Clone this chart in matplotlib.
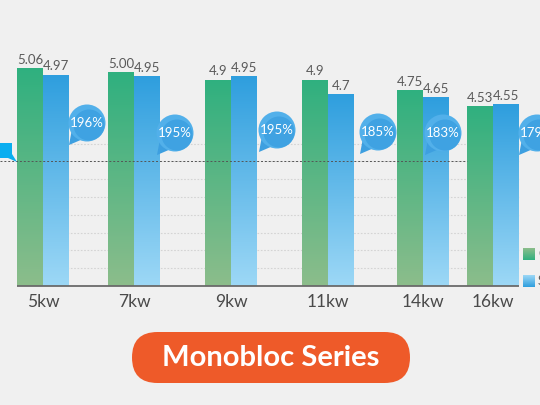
import numpy as np
import matplotlib.pyplot as plt
from matplotlib.patches import Circle, Polygon, FancyBboxPatch
from matplotlib.colors import LinearSegmentedColormap

# data
models = ['5kw', '7kw', '9kw', '11kw', '14kw', '16kw']
cop = [5.06, 5.00, 4.9, 4.9, 4.75, 4.53]
scop = [4.97, 4.95, 4.95, 4.7, 4.65, 4.55]
cop_labels = ['5.06', '5.00', '4.9', '4.9', '4.75', '4.53']
scop_labels = ['4.97', '4.95', '4.95', '4.7', '4.65', '4.55']
eff = ['196%', '195%', '195%', '185%', '183%', '179%']

# layout (pixel-like x units, bubbles in figure pixels)
x_pos = np.array([43, 134, 231, 328, 423, 493])
bar_w = 26
bubble_xy = [(87, 123), (175, 133), (277, 130), (378, 132), (443, 133), (537, 133)]

bg = '#f0f0f0'
green_cm = LinearSegmentedColormap.from_list('g', ['#8cbd8b', '#2fb07f'])
blue_cm = LinearSegmentedColormap.from_list('b', ['#9dd8f6', '#2e9ede'])
grad = np.linspace(0, 1, 256).reshape(-1, 1)

fig = plt.figure(figsize=(5.4, 4.05), dpi=100, facecolor=bg)
ax = fig.add_axes([0, 119 / 405, 1, 286 / 405])
ax.set_facecolor(bg)
y0 = 2.0
for s in ax.spines.values():
    s.set_visible(False)
ax.set_yticks([])

# light dotted grid + dark dashed reference line
for g in np.arange(2.25, 4.01, 0.25):
    ax.hlines(g, 17, 519, color='#d4d4d4', lw=0.8, ls=(0, (1.5, 1.5)), zorder=0)
ax.hlines(3.75, 0, 467, color='#555555', lw=0.7, ls=(0, (2, 2)), zorder=5)


def grad_bars(xs, vals, cm):
    bars = ax.bar(xs, np.array(vals) - y0, bottom=y0, width=bar_w,
                  color='none', lw=0, zorder=2)
    for b in bars:
        x0, yb = b.get_x(), b.get_y()
        im = ax.imshow(grad, cmap=cm, origin='lower', aspect='auto',
                       extent=[x0, x0 + b.get_width(), yb, yb + b.get_height()],
                       zorder=2)
        im.set_clip_path(b)
    return bars


grad_bars(x_pos - bar_w / 2, cop, green_cm)
grad_bars(x_pos + bar_w / 2, scop, blue_cm)
ax.set_xlim(0, 540)
ax.set_ylim(y0, y0 + 286 / 71.2)

for xs, vals, labs in [(x_pos - bar_w / 2, cop, cop_labels),
                       (x_pos + bar_w / 2, scop, scop_labels)]:
    for x, v, t in zip(xs, vals, labs):
        ax.annotate(t, (x, v), xytext=(0, 1.5), textcoords='offset points',
                    ha='center', va='bottom', fontsize=9.5, color='#5a5a5a',
                    family='Lato')

ax.hlines(y0, 17, 519, color='#6a6a6a', lw=1.3, zorder=4, clip_on=False)
ax.set_xticks(x_pos)
ax.set_xticklabels(models, fontsize=12.5, color='#4a4a4a', family='Lato')
ax.tick_params(axis='x', length=0, pad=6)

# decorations in figure pixels
deco = fig.add_axes([0, 0, 1, 1], zorder=10)
deco.axis('off')
deco.patch.set_alpha(0)

for (cx, cy), t in zip(bubble_xy, eff):
    deco.add_patch(Polygon([(cx - 15, cy + 6), (cx - 4, cy + 16), (cx - 18, cy + 22)],
                           closed=True, color='#3d9fe0', lw=0))
    deco.add_patch(Circle((cx, cy), 18.5, color='#52b0ea', lw=0))
    deco.add_patch(Circle((cx + 2, cy + 2), 15.5, color='#3fa2e2', lw=0))
    deco.text(cx, cy, t, ha='center', va='center', color='white',
              fontsize=9.5, family='Lato')

# cropped marker at left edge
deco.add_patch(Polygon([(0, 143), (12, 143), (12, 154), (17, 162), (8, 158), (0, 158)],
                       closed=True, color='#0aaef0', lw=0))

# legend (cropped at right edge)
for yy, cm, lab in [(248, green_cm, 'COP'), (275, blue_cm, 'SCOP')]:
    deco.imshow(grad, cmap=cm, origin='upper', aspect='auto',
                extent=[523, 535, yy + 12, yy], zorder=3)
    deco.text(538, yy + 6, lab, ha='left', va='center', fontsize=9,
              color='#555555', family='Lato')

# orange title pill
deco.add_patch(FancyBboxPatch((132, 332), 278, 51,
                              boxstyle='round,pad=0,rounding_size=25.5',
                              color='#ee5a29', lw=0))
deco.text(271, 358, 'Monobloc Series', ha='center', va='center', color='white',
          fontsize=21, fontweight='bold', family='Lato')
deco.set_xlim(0, 540)
deco.set_ylim(405, 0)

fig.savefig('out.png', dpi=100, facecolor=bg)
